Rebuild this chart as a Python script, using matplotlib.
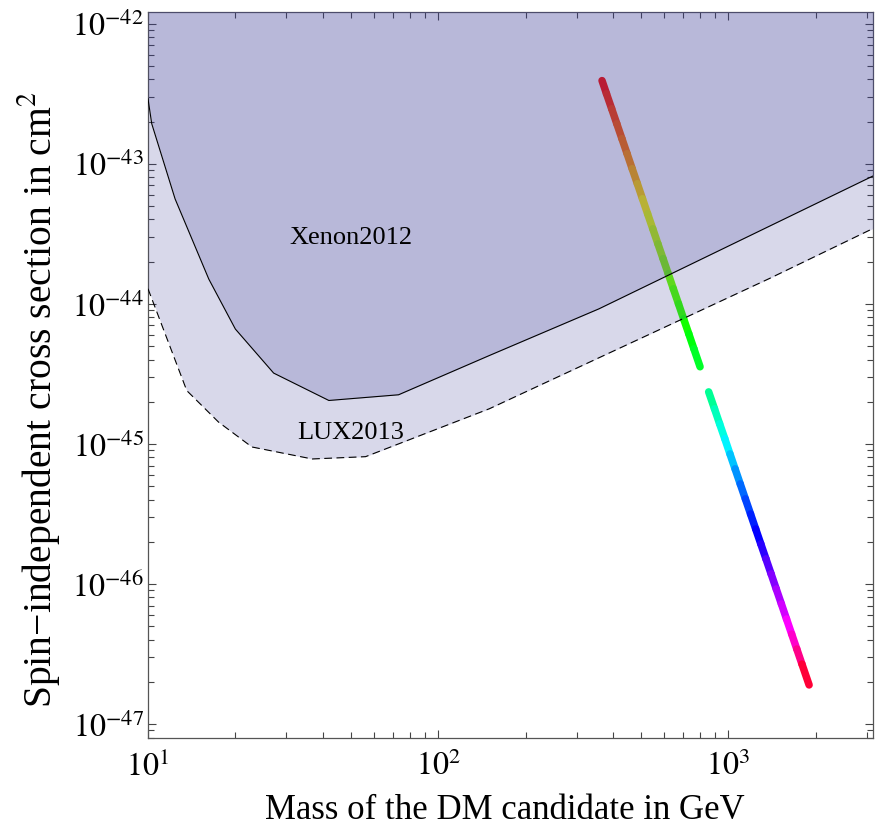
import numpy as np
import matplotlib
matplotlib.use("Agg")
import matplotlib.pyplot as plt
from matplotlib.collections import LineCollection
from matplotlib.colors import hsv_to_rgb
from matplotlib.ticker import LogLocator, NullFormatter

plt.rcParams['font.family'] = 'serif'
plt.rcParams['font.serif'] = ['Liberation Serif', 'DejaVu Serif']
plt.rcParams['mathtext.fontset'] = 'stix'

# exclusion limits (mass in GeV, cross section in cm^2)
xenon_mass = [10, 10.3, 12.4, 16.2, 20, 27.1, 42, 73, 150, 358, 3200]
xenon_sigma = [2.91e-43, 1.93e-43, 5.6e-44, 1.5e-44, 6.6e-45, 3.2e-45,
               2.04e-45, 2.24e-45, 4.27e-45, 9.2e-45, 8.3e-44]
lux_mass = [10, 13.6, 17.5, 22.8, 36.8, 56.2, 150, 1380, 3200]
lux_sigma = [1.28e-44, 2.4e-45, 1.43e-45, 9.5e-46, 7.8e-46, 8.1e-46,
             1.78e-45, 1.51e-44, 3.5e-44]

# model points: two branches, colour given as hue in degrees
branch1_mass = [366.9, 380.1, 396.0, 412.5, 429.6, 447.5, 466.1, 485.6, 505.8, 526.8,
                548.8, 571.6, 595.4, 620.2, 646.0, 673.0, 701.0, 730.2, 760.6, 798.7]
branch1_sigma = [3.92e-43, 3.16e-43, 2.47e-43, 1.93e-43, 1.51e-43, 1.18e-43, 9.21e-44,
                 7.20e-44, 5.62e-44, 4.39e-44, 3.43e-44, 2.68e-44, 2.10e-44, 1.64e-44,
                 1.28e-44, 1.00e-44, 7.81e-45, 6.11e-45, 4.77e-45, 3.55e-45]
branch1_hue = [0, 5, 11, 17, 23, 29, 37, 45, 53, 62,
               70, 78, 85, 92, 99, 106, 112, 119, 126, 133]

branch2_mass = [855.1, 895.6, 932.8, 971.6, 1012.3, 1054.4, 1098.3, 1144.0, 1192.0, 1241.6,
                1293.3, 1347.1, 1403.2, 1461.8, 1522.6, 1585.9, 1651.9, 1720.6, 1792.3, 1897.3]
branch2_sigma = [2.35e-45, 1.78e-45, 1.39e-45, 1.09e-45, 8.48e-46, 6.63e-46, 5.18e-46,
                 4.05e-46, 3.16e-46, 2.47e-46, 1.93e-46, 1.51e-46, 1.18e-46, 9.21e-47,
                 7.20e-47, 5.62e-47, 4.39e-47, 3.43e-47, 2.68e-47, 1.90e-47]
branch2_hue = [150, 160, 168, 177, 188, 200, 211, 220, 228, 237,
               245, 255, 266, 276, 285, 294, 305, 320, 336, 358]

x_ticks = [1e1, 1e2, 1e3]
y_ticks = [1e-47, 1e-46, 1e-45, 1e-44, 1e-43, 1e-42]

fig = plt.figure(figsize=(8.75, 8.29), dpi=100)
ax = fig.add_axes([148 / 875, 1 - 739 / 829, 725 / 875, 726 / 829])
ax.set_xscale('log')
ax.set_yscale('log')

for m, s, h in [(branch1_mass, branch1_sigma, branch1_hue),
                (branch2_mass, branch2_sigma, branch2_hue)]:
    pts = list(zip(m, s))
    segs = [[pts[i], pts[i + 1]] for i in range(len(pts) - 1)]
    cols = [hsv_to_rgb(((h[i] + h[i + 1]) / 2 / 360 % 1, 1, 1)) for i in range(len(pts) - 1)]
    lc = LineCollection(segs, colors=cols, linewidths=5.4, capstyle='round', zorder=2)
    ax.add_collection(lc)

fill_col = (60 / 255, 60 / 255, 150 / 255)
ax.fill_between(lux_mass, lux_sigma, 1e-40, color=fill_col, alpha=0.2, lw=0, zorder=3)
ax.fill_between(xenon_mass, xenon_sigma, 1e-40, color=fill_col, alpha=0.2, lw=0, zorder=3)
ax.plot(xenon_mass, xenon_sigma, color='black', lw=0.8, zorder=4)
ax.plot(lux_mass, lux_sigma, color='black', lw=0.8, ls=(0, (7, 4)), zorder=4)

ax.text(50, 3.0e-44, 'Xenon2012', fontsize=19, ha='center', va='center', zorder=5)
ax.text(50, 1.22e-45, 'LUX2013', fontsize=19, ha='center', va='center', zorder=5)

ax.set_xticks(x_ticks)
ax.set_xticklabels([r'$10^{1}$', r'$10^{2}$', r'$10^{3}$'])
ax.set_yticks(y_ticks)
ax.set_yticklabels([r'$10^{-47}$', r'$10^{-46}$', r'$10^{-45}$',
                    r'$10^{-44}$', r'$10^{-43}$', r'$10^{-42}$'])
ax.xaxis.set_minor_locator(LogLocator(base=10, subs=np.arange(2, 10), numticks=10))
ax.xaxis.set_minor_formatter(NullFormatter())
ax.yaxis.set_minor_locator(LogLocator(base=10, subs=np.arange(2, 10), numticks=10))
ax.yaxis.set_minor_formatter(NullFormatter())

ax.set_xlim(10, 3150)
ax.set_ylim(10 ** -47.1, 10 ** -41.917)

ax.tick_params(which='both', direction='in', top=True, right=True, color='#444444', width=0.8)
ax.tick_params(which='major', length=6)
ax.tick_params(which='minor', length=4)
ax.tick_params(axis='y', which='major', labelsize=23, pad=3)
ax.tick_params(axis='x', which='major', labelsize=23, pad=9)
for sp in ax.spines.values():
    sp.set_color('#555555')
    sp.set_linewidth(0.9)

ax.set_xlabel('Mass of the DM candidate in GeV', fontsize=25)
ax.set_ylabel('Spin\u2212independent cross section in cm$^2$', fontsize=28.5)
ax.xaxis.set_label_coords(0.4924, -0.076)
ax.yaxis.set_label_coords(-0.118, 0.467)

fig.savefig('out.png', dpi=100)
